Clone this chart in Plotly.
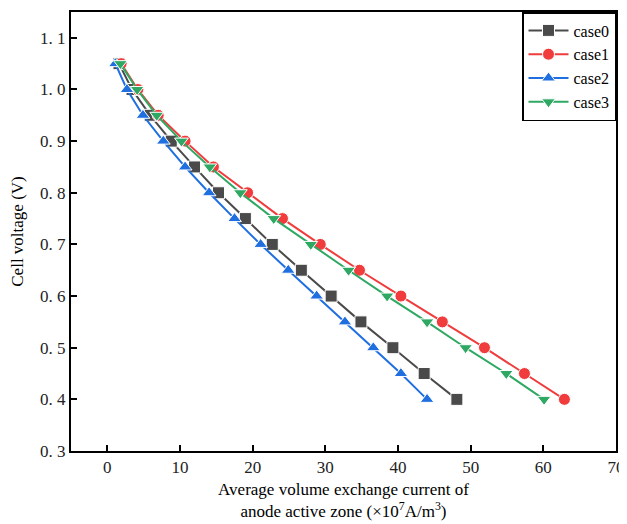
import plotly.graph_objects as go

voltage = [1.05, 1.0, 0.95, 0.9, 0.85, 0.8, 0.75, 0.7, 0.65, 0.6, 0.55, 0.5, 0.45, 0.4]
case0 = [1.6, 3.4, 5.9, 8.8, 12.0, 15.3, 19.0, 22.7, 26.7, 30.8, 34.9, 39.3, 43.6, 48.1]
case1 = [1.9, 4.2, 7.0, 10.7, 14.6, 19.3, 24.1, 29.3, 34.7, 40.4, 46.1, 51.9, 57.4, 62.9]
case2 = [1.1, 2.7, 4.9, 7.7, 10.7, 14.0, 17.5, 21.1, 24.9, 28.8, 32.7, 36.6, 40.4, 44.0]
case3 = [1.8, 4.1, 6.8, 10.2, 14.1, 18.3, 22.9, 28.0, 33.2, 38.5, 44.0, 49.3, 54.9, 60.1]

series_names = ["case0", "case1", "case2", "case3"]
series_values = [case0, case1, case2, case3]
colors = ["#4a4a4a", "#f03c3c", "#1f6fe0", "#2ea862"]
symbols = ["square", "circle", "triangle-up", "triangle-down"]

y_tickvals = [0.3, 0.4, 0.5, 0.6, 0.7, 0.8, 0.9, 1.0, 1.1]
y_ticktext = ["0. 3", "0. 4", "0. 5", "0. 6", "0. 7", "0. 8", "0. 9", "1. 0", "1. 1"]
x_tickvals = [0, 10, 20, 30, 40, 50, 60, 70]

font_family = "Liberation Serif, Times New Roman, serif"

fig = go.Figure()
for name, xs, c, s in zip(series_names, series_values, colors, symbols):
    fig.add_trace(go.Scatter(
        x=xs, y=voltage, name=name, mode="lines+markers",
        line=dict(color=c, width=2),
        marker=dict(symbol=s, size=12, color=c, line=dict(color="white", width=1)),
    ))

axis_common = dict(
    showline=True, linecolor="black", linewidth=2, mirror=True,
    ticks="inside", ticklen=6, tickwidth=2, tickcolor="black",
    showgrid=False, zeroline=False, automargin=False,
    tickfont=dict(family=font_family, size=17, color="#222"),
)

fig.update_xaxes(
    range=[-5, 70], tickvals=x_tickvals,
    title=dict(text="Average volume exchange current of<br>anode active zone (×10<sup>7</sup>A/m<sup>3</sup>)",
               font=dict(family=font_family, size=17, color="black"), standoff=7),
    **axis_common,
)
fig.update_yaxes(
    range=[0.3, 1.15], tickvals=y_tickvals, ticktext=y_ticktext,
    title=dict(text="Cell voltage (V)", font=dict(family=font_family, size=17, color="black"), standoff=12),
    **axis_common,
)

# page body has an 8px default margin, so the figure is sized to fit the 627x524 window
fig.update_layout(
    width=619, height=516,
    margin=dict(l=63, r=11, t=4, b=73),
    paper_bgcolor="white", plot_bgcolor="white",
    font=dict(family=font_family, color="black"),
    legend=dict(x=1, y=1, xanchor="right", yanchor="top",
                bordercolor="black", borderwidth=1.5, bgcolor="white",
                font=dict(family=font_family, size=16, color="black"),
                tracegroupgap=0, itemwidth=40, entrywidth=48),
    showlegend=True,
)

fig.write_html("out.html")
